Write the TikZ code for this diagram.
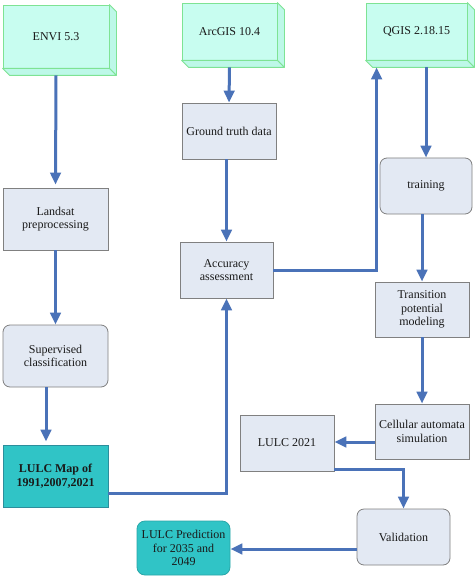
\documentclass[tikz,border=0pt]{standalone}
\usepackage{fontspec}
\setmainfont{Liberation Serif}
\usetikzlibrary{arrows.meta}
\definecolor{arrowblue}{HTML}{4A72B8}
\definecolor{boxfill}{HTML}{E3E9F3}
\definecolor{boxline}{HTML}{808080}
\definecolor{cubefront}{HTML}{C8FDF0}
\definecolor{cubeside}{HTML}{BDF8E8}
\definecolor{cubeline}{HTML}{7EE394}
\definecolor{tealfill}{HTML}{30C4C6}
\definecolor{tealline}{HTML}{2C8E9C}
\definecolor{txt}{HTML}{1A1A1A}
\tikzset{
  base/.style={inner sep=1pt, align=center, text=txt, font=\fontsize{12}{13.5}\selectfont},
  graybox/.style={base, draw=boxline, fill=boxfill, line width=0.8pt},
  roundbox/.style={graybox, rounded corners=7pt},
  cube/.style={base, draw=cubeline, fill=cubefront, line width=0.8pt},
  tealbox/.style={base, draw=tealline, fill=tealfill, line width=0.9pt},
  tealround/.style={base, draw=tealfill!85!black, fill=tealfill, line width=0.8pt, rounded corners=8pt},
  flow/.style={draw=arrowblue, line width=3pt, -{Triangle[length=12pt,width=10.5pt]}}
}
\newcommand{\cubeext}[1]{%
  \filldraw[cubeline, fill=cubeside, line width=0.8pt, line join=round]
    (#1.north east) -- ++(7,7) -- ([shift={(7,7)}]#1.south east) -- (#1.south east) -- cycle;
  \filldraw[cubeline, fill=cubeside, line width=0.8pt, line join=round]
    (#1.south west) -- ++(7,7) -- ([shift={(7,7)}]#1.south east) -- (#1.south east) -- cycle;
}
\begin{document}
\begin{tikzpicture}[x=1pt, y=-1pt]
\useasboundingbox[fill=white] (0,0) rectangle (474,580);

% cubes
\node[cube, minimum width=106pt, minimum height=63pt] (envi) at (56,36.5) {ENVI 5.3};
\cubeext{envi}
\node[cube, minimum width=95pt, minimum height=57pt] (arcgis) at (229.5,31.5) {ArcGIS 10.4};
\cubeext{arcgis}
\node[cube, minimum width=101pt, minimum height=57pt] (qgis) at (416.5,31.5) {QGIS 2.18.15};
\cubeext{qgis}

% boxes
\node[graybox, minimum width=94pt, minimum height=56pt] (ground) at (229,131) {Ground truth data};
\node[graybox, minimum width=105pt, minimum height=62pt] (landsat) at (55.5,219) {Landsat\\preprocessing};
\node[graybox, minimum width=93pt, minimum height=56pt] (acc) at (226.5,270) {Accuracy\\assessment};
\node[roundbox, minimum width=105pt, minimum height=62pt] (sup) at (55.5,356) {Supervised\\classification};
\node[tealbox, minimum width=105pt, minimum height=62pt] (map) at (55.5,476) {\bfseries LULC Map of\\\bfseries 1991,2007,2021};
\node[roundbox, minimum width=92pt, minimum height=56pt] (train) at (426,186) {training};
\node[graybox, minimum width=94pt, minimum height=55pt] (trans) at (422,309.5) {Transition\\potential\\modeling};
\node[graybox, minimum width=94pt, minimum height=55pt] (cell) at (422,431.5) {Cellular automata\\simulation};
\node[graybox, minimum width=94pt, minimum height=56pt] (l21) at (287,443) {LULC 2021};
\node[roundbox, minimum width=93pt, minimum height=56pt] (valid) at (403.5,537) {Validation};
\node[tealround, minimum width=93pt, minimum height=54pt] (pred) at (183.5,548) {LULC Prediction\\for 2035 and\\2049};

% connectors
\draw[flow] ([yshift=-7pt]envi.south) -- ([yshift=3pt]landsat.north);
\draw[flow] ([yshift=-7pt]arcgis.south) -- (ground.north);
\draw[flow] (acc.north |- ground.south) -- (acc.north);
\draw[flow] (landsat.south) -- (sup.north);
\draw[flow] ([xshift=-9.5pt]sup.south) -- ([shift={(-9.5pt,3pt)}]map.north);
\draw[flow] ([yshift=-17pt]map.east) -| (acc.south);
\draw[flow] (acc.east) -| ([shift={(11,7)}]qgis.south west);
\draw[flow] ([yshift=-7pt]qgis.south -| train.north) -- (train.north);
\draw[flow] (trans.north |- train.south) -- (trans.north);
\draw[flow] (trans.south) -- (cell.north);
\draw[flow] ([yshift=-10.5pt]cell.west) -- ([yshift=-10.5pt]cell.west -| l21.east);
\draw[flow] ([yshift=2pt]l21.south east) -| (valid.north);
\draw[flow] ([yshift=-12pt]valid.west) -- ([yshift=-12pt]valid.west -| pred.east);
\end{tikzpicture}
\end{document}
